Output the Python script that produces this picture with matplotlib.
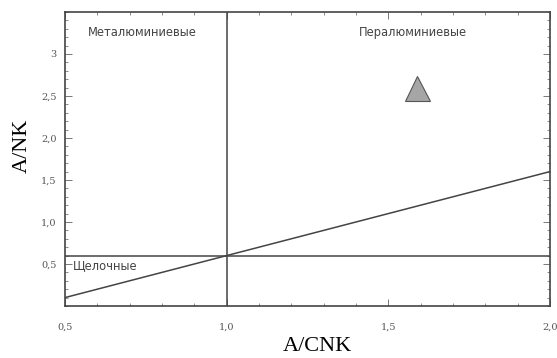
import matplotlib
matplotlib.use("Agg")
import matplotlib.pyplot as plt
from matplotlib.ticker import MultipleLocator

# boundary lines of the Shand diagram
div_x = [1.0, 1.0]
div_y = [0.0, 3.5]
alk_x = [0.5, 2.0]
alk_y = [0.6, 0.6]
diag_x = [0.5, 2.0]
diag_y = [0.1, 1.6]

# sample point
sample_x = [1.59]
sample_y = [2.6]

xticks = [0.5, 1.0, 1.5, 2.0]
xtick_labels = ["0,5", "1,0", "1,5", "2,0"]
yticks = [0.5, 1.0, 1.5, 2.0, 2.5, 3.0]
ytick_labels = ["0,5", "1,0", "1,5", "2,0", "2,5", "3"]

fig = plt.figure(figsize=(5.57, 3.58), dpi=100)
ax = fig.add_axes([0.1167, 0.1453, 0.8707, 0.8212])

lc = "#444444"
ax.plot(div_x, div_y, color=lc, lw=1.1)
ax.plot(alk_x, alk_y, color=lc, lw=1.1)
ax.plot(diag_x, diag_y, color=lc, lw=1.1)

ax.plot(sample_x, sample_y, marker="^", markersize=18, color="#a6a6a6",
        markeredgecolor="#555555", markeredgewidth=0.8, linestyle="none")

ax.text(0.738, 3.26, "Металюминиевые", fontsize=8.3, color="#444444",
        ha="center", va="center", family="DejaVu Sans")
ax.text(1.576, 3.26, "Пералюминиевые", fontsize=8.3, color="#444444",
        ha="center", va="center", family="DejaVu Sans")
ax.text(0.525, 0.48, "Щелочные", fontsize=8.3, color="#444444",
        ha="left", va="center", family="DejaVu Sans")

ax.set_xlim(0.5, 2.0)
ax.set_ylim(0.0, 3.5)
ax.set_xticks(xticks)
ax.set_xticklabels(xtick_labels)
ax.set_yticks(yticks)
ax.set_yticklabels(ytick_labels)
ax.xaxis.set_minor_locator(MultipleLocator(0.1))
ax.yaxis.set_minor_locator(MultipleLocator(0.1))

ax.tick_params(which="both", direction="in", top=True, right=True,
               color="#777777")
ax.tick_params(which="major", length=5, width=0.7, labelsize=7,
               labelcolor="#555555", pad=12)
ax.tick_params(which="minor", length=2.5, width=0.6)
ax.tick_params(axis="y", which="major", pad=6)
for lab in ax.get_xticklabels() + ax.get_yticklabels():
    lab.set_family("DejaVu Serif")

for s in ax.spines.values():
    s.set_color("#444444")
    s.set_linewidth(1.2)

ax.set_xlabel("A/CNK", fontsize=16, family="Liberation Serif")
ax.set_ylabel("A/NK", fontsize=16, family="Liberation Serif")
ax.xaxis.set_label_coords(0.52, -0.105)
ax.yaxis.set_label_coords(-0.068, 0.544)

fig.savefig("out.png", dpi=100)
